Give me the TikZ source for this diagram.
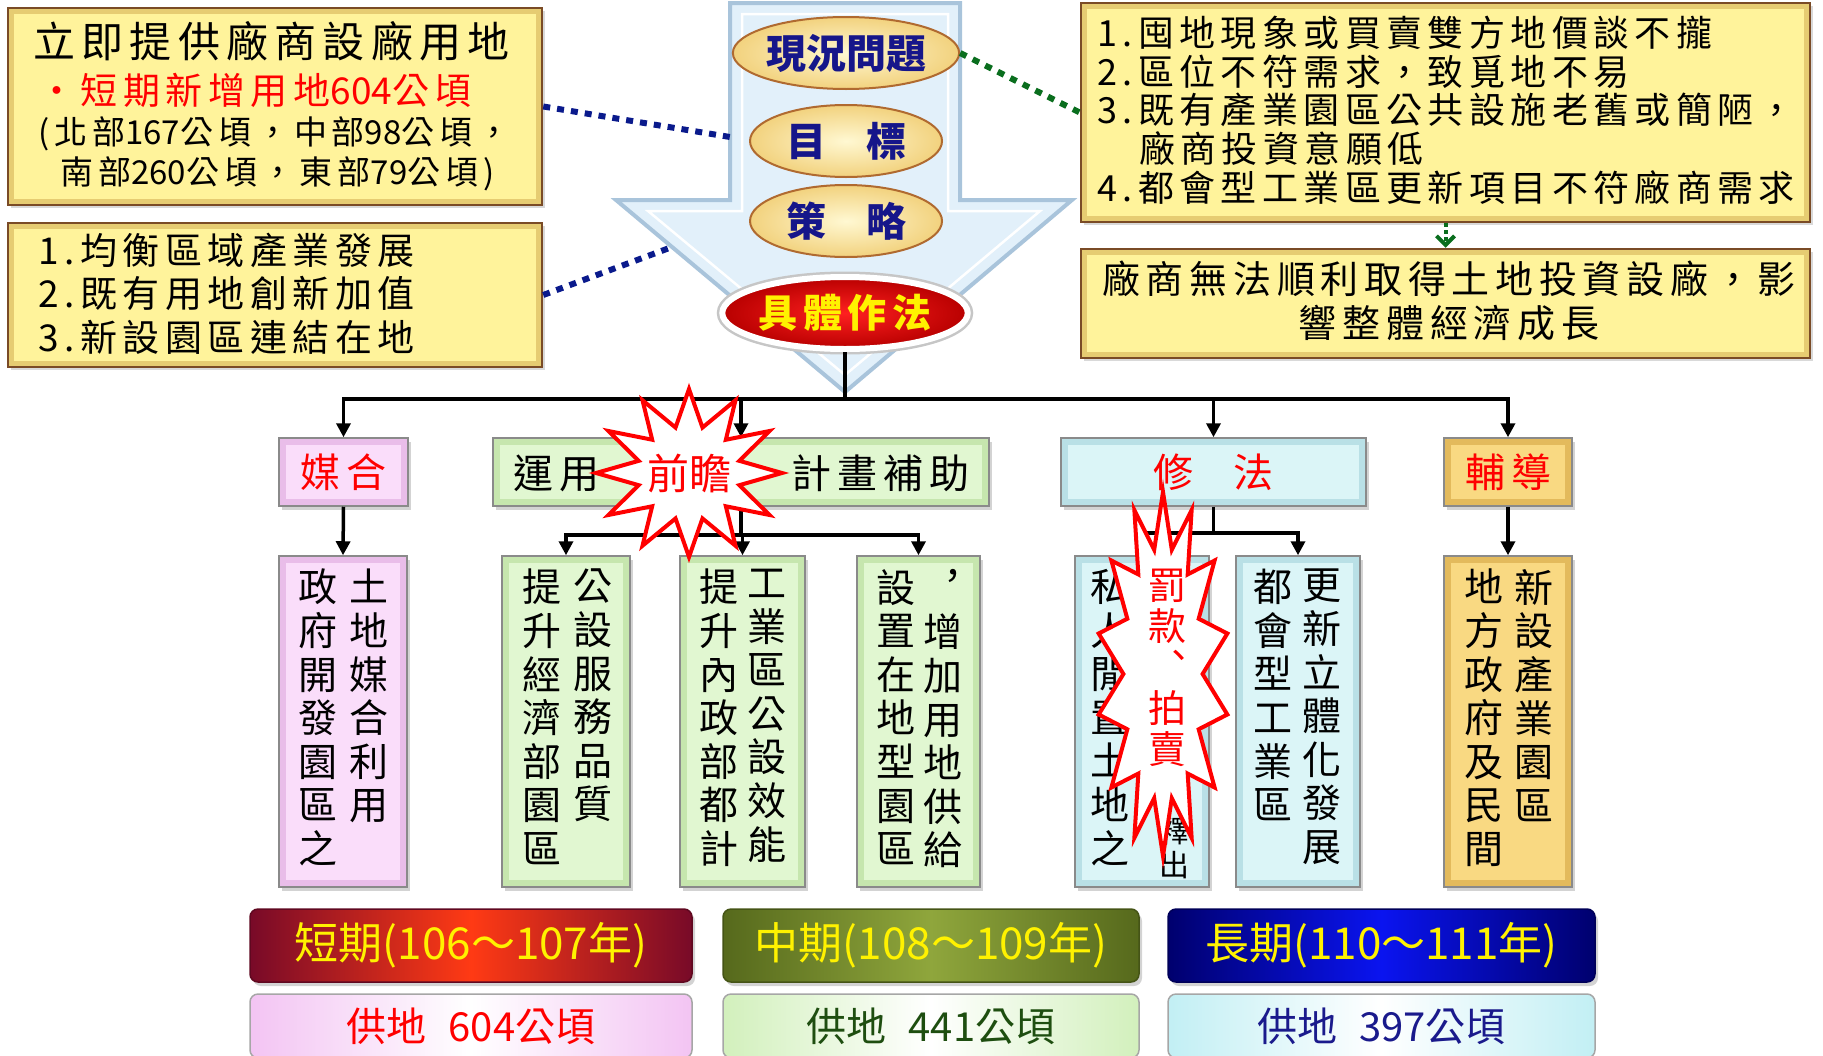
\documentclass[tikz,border=0pt]{standalone}
\usepackage{fontspec}
\setmainfont{Noto Sans CJK TC}
\newfontfamily\zh[LetterSpace=15]{Noto Sans CJK TC}
\newfontfamily\zhn{Noto Sans CJK TC}
\usetikzlibrary{arrows.meta,shadows,shapes.geometric}
\definecolor{yfill}{HTML}{FFF39B}
\definecolor{yedge}{HTML}{E6CC72}
\definecolor{ybrown}{HTML}{7A4B26}
\definecolor{navyt}{HTML}{16168A}
\definecolor{navyd}{HTML}{0A1A8C}
\definecolor{gdot}{HTML}{0A6E1E}
\definecolor{arrfill}{HTML}{E2F0FA}
\definecolor{arredge}{HTML}{A9C4DB}
\definecolor{pinkO}{HTML}{E9BDE9}
\definecolor{pinkI}{HTML}{FADDFA}
\definecolor{grnO}{HTML}{C6E6AE}
\definecolor{grnI}{HTML}{E1F7D1}
\definecolor{cyO}{HTML}{B9E0E6}
\definecolor{cyI}{HTML}{DBF5F7}
\definecolor{gdO}{HTML}{E3BA5C}
\definecolor{gdI}{HTML}{F9D982}
\definecolor{bx}{HTML}{8A8A8A}
\definecolor{yin}{HTML}{FFF8D2}
\definecolor{yout}{HTML}{F2D27E}
\definecolor{ebrn}{HTML}{B06A30}
\definecolor{rin}{HTML}{FF2020}
\definecolor{rout}{HTML}{B80000}
\definecolor{wine}{HTML}{780A28}
\definecolor{redo}{HTML}{FF3A14}
\definecolor{olivO}{HTML}{56691C}
\definecolor{olivI}{HTML}{8FA63C}
\definecolor{navO}{HTML}{00006E}
\definecolor{navI}{HTML}{0A14F0}
\definecolor{sgreen}{HTML}{1E4E10}
\definecolor{snavy}{HTML}{1A1A8C}
\definecolor{spink}{HTML}{F3C4F3}
\definecolor{sgrn}{HTML}{D2F0BC}
\definecolor{scy}{HTML}{C2EFF4}
\begin{document}
\begin{tikzpicture}[x=1pt,y=-1pt,
  bev/.style n args={2}{fill=#1, draw=bx, line width=1.5pt, inner sep=0pt,
     path picture={\fill[#2] ([shift={(7pt,7pt)}]path picture bounding box.south west) rectangle ([shift={(-7pt,-7pt)}]path picture bounding box.north east);},
     drop shadow={opacity=0.35,shadow xshift=3pt,shadow yshift=-4pt}},
  ybox/.style={fill=yedge, draw=ybrown, line width=2.5pt, inner sep=0pt,
     path picture={\fill[yfill] ([shift={(6pt,6pt)}]path picture bounding box.south west) rectangle ([shift={(-6pt,-6pt)}]path picture bounding box.north east);},
     drop shadow={opacity=0.3,shadow xshift=3pt,shadow yshift=-3pt}},
  txt/.style={inner sep=0pt},
  yell/.style={ellipse, minimum width=192pt, minimum height=72pt, inner sep=0pt, draw=ebrn, line width=2pt, inner color=yin, outer color=yout, text=navyt, font=\bfseries\fontsize{40}{42}\selectfont},
  redell/.style={ellipse, minimum width=244pt, minimum height=72pt, inner sep=0pt, preaction={draw=gray!45, line width=11pt}, draw=white, line width=6pt, inner color=rin, outer color=rout, text=yellow, font=\bfseries\zh\fontsize{39}{41}\selectfont},
  per/.style n args={2}{rounded corners=8pt, minimum height=73pt, inner sep=0pt, left color=#1, right color=#1, middle color=#2, draw=#1!80!black, line width=1.5pt, text=yellow, font=\fontsize{44}{46}\selectfont, drop shadow={opacity=0.35,shadow xshift=3pt,shadow yshift=-4pt}},
  sup/.style n args={2}{rounded corners=8pt, minimum height=64pt, inner sep=0pt, left color=#1, right color=#1, middle color=white, draw=gray!70, line width=1.5pt, text=#2, font=\fontsize{40}{42}\selectfont},
  vcol/.style={font=\fontsize{39}{43.6}\selectfont, align=center, anchor=north, inner sep=0pt},
  ln/.style={line width=3.5pt},
  arr/.style={line width=3.5pt, -{Triangle[length=14pt,width=14pt]}},
  bdot/.style={draw=navyd, line width=6pt, dash pattern=on 7pt off 7pt},
  gdotl/.style={draw=gdot, line width=6pt, dash pattern=on 7pt off 7pt},
  starst/.style={draw=red, line width=4pt, fill=white, line join=miter}
]
\useasboundingbox (0,0) rectangle (1823,1055);

% ---------- big arrow ----------
\draw[fill=arrfill, draw=arredge, line width=4pt, line join=miter]
  (730,3) -- (960,3) -- (960,200) -- (1072,200) -- (845,392) -- (616,200) -- (730,200) -- cycle;
\draw[white, line width=2.5pt, line join=miter]
  (742,14) -- (948,14) -- (948,211) -- (1040,211) -- (845,375) -- (648,211) -- (742,211) -- cycle;
\coordinate (aL) at (730,137);
\coordinate (aH) at (672,247);

% ---------- yellow boxes ----------
\node[ybox, minimum width=534pt, minimum height=197pt] (tl1) at (275,106.5) {};
\node[ybox, minimum width=534pt, minimum height=144pt] (tl2) at (275,295) {};
\node[ybox, minimum width=729pt, minimum height=219pt] (rb1) at (1445.5,112.5) {};
\node[ybox, minimum width=729pt, minimum height=109pt] (rb2) at (1445.5,303.5) {};

\node[txt, anchor=west, font=\zh\fontsize{42}{44}\selectfont] (t11) at (33,41) {立即提供廠商設廠用地};
\node[txt, anchor=west, text=red, font=\zh\fontsize{37}{40}\selectfont] (t12) at (38,90) {•短期新增用地{\zhn 604}公頃};
\node[txt, anchor=west, font=\zh\fontsize{33}{36}\selectfont] (t13) at (38,134) {(北部{\zhn 167}公頃，中部{\zhn 98}公頃，};
\node[txt, anchor=west, font=\zh\fontsize{33}{36}\selectfont] (t14) at (60,174) {南部{\zhn 260}公頃，東部{\zhn 79}公頃)};

\node[txt, anchor=west, font=\zh\fontsize{37}{40}\selectfont] (t21) at (38,250) {1.均衡區域產業發展};
\node[txt, anchor=west, font=\zh\fontsize{37}{40}\selectfont] (t22) at (38,293) {2.既有用地創新加值};
\node[txt, anchor=west, font=\zh\fontsize{37}{40}\selectfont] (t23) at (38,337) {3.新設園區連結在地};

\node[txt, anchor=west, font=\zh\fontsize{36}{38}\selectfont] (r11) at (1097,33) {1.囤地現象或買賣雙方地價談不攏};
\node[txt, anchor=west, font=\zh\fontsize{36}{38}\selectfont] (r12) at (1097,72) {2.區位不符需求，致覓地不易};
\node[txt, anchor=west, font=\zh\fontsize{36}{38}\selectfont] (r13) at (1097,110) {3.既有產業園區公共設施老舊或簡陋，};
\node[txt, anchor=west, font=\zh\fontsize{36}{38}\selectfont] (r14) at (1139,149) {廠商投資意願低};
\node[txt, anchor=west, font=\zh\fontsize{36}{38}\selectfont] (r15) at (1097,188) {4.都會型工業區更新項目不符廠商需求};

\node[txt, font=\zh\fontsize{38}{40}\selectfont] (r21) at (1449,279) {廠商無法順利取得土地投資設廠，影};
\node[txt, font=\zh\fontsize{38}{40}\selectfont] (r22) at (1449,323) {響整體經濟成長};

% ---------- ellipses ----------
\node[yell] (e1) at (846,53) {現況問題};
\node[yell] (e2) at (846,141) {目　標};
\node[yell] (e3) at (846,221) {策　略};
\node[redell] (e4) at (845,313) {具體作法};

% ---------- dotted links ----------
\draw[bdot] (tl1.east) -- (aL);
\draw[bdot] (tl2.east) -- (aH);
\draw[gdotl] (e1.east) -- (rb1.west);
\draw[draw=gdot, line width=4pt, dash pattern=on 4pt off 3pt, -{Straight Barb[length=9pt,width=18pt,line width=4pt]}] (rb1.south) -- (rb2.north);

% ---------- level 2 ----------
\node[bev={pinkO}{pinkI}, minimum width=129pt, minimum height=68pt, text=red, font=\zh\fontsize{40}{42}\selectfont] (b1) at (343.5,472) {媒合};
\node[bev={grnO}{grnI}, minimum width=496pt, minimum height=68pt] (b2) at (741,472) {};
\node[bev={cyO}{cyI}, minimum width=305pt, minimum height=68pt, text=red, font=\fontsize{40}{42}\selectfont] (b3) at (1213.5,472) {修\hspace{40pt}法};
\node[bev={gdO}{gdI}, minimum width=128pt, minimum height=68pt, text=red, font=\zh\fontsize{40}{42}\selectfont] (b4) at (1508,472) {輔導};
\node[txt, font=\zh\fontsize{40}{42}\selectfont] (t2a) at (556,473) {運用};
\node[txt, font=\zh\fontsize{40}{42}\selectfont] (t2b) at (880,473) {計畫補助};

% ---------- level 3 ----------
\node[bev={pinkO}{pinkI}, minimum width=128pt, minimum height=331pt] (c1) at (343,721.5) {};
\node[bev={grnO}{grnI}, minimum width=128pt, minimum height=331pt] (c2) at (566,721.5) {};
\node[bev={grnO}{grnI}, minimum width=125pt, minimum height=331pt] (c3) at (742.5,721.5) {};
\node[bev={grnO}{grnI}, minimum width=123pt, minimum height=331pt] (c4) at (918.5,721.5) {};
\node[bev={cyO}{cyI}, minimum width=134pt, minimum height=331pt] (c5) at (1142,721.5) {};
\node[bev={cyO}{cyI}, minimum width=124pt, minimum height=331pt] (c6) at (1298,721.5) {};
\node[bev={gdO}{gdI}, minimum width=128pt, minimum height=331pt] (c7) at (1508,721.5) {};

\node[vcol] (c1r) at (369,569) {土\\地\\媒\\合\\利\\用};
\node[vcol] (c1l) at (318,569) {政\\府\\開\\發\\園\\區\\之};
\node[vcol] (c2r) at (593,569) {公\\設\\服\\務\\品\\質};
\node[vcol] (c2l) at (542,569) {提\\升\\經\\濟\\部\\園\\區};
\node[vcol] (c3r) at (767,569) {工\\業\\區\\公\\設\\效\\能};
\node[vcol] (c3l) at (719,569) {提\\升\\內\\政\\部\\都\\計};
\node[vcol] (c4r) at (943,569) {︐\\增\\加\\用\\地\\供\\給};
\node[vcol] (c4l) at (896,569) {設\\置\\在\\地\\型\\園\\區};
\node[vcol] (c5l) at (1110,569) {私\\人\\閒\\置\\土\\地\\之};
\node[vcol, font=\fontsize{30}{34}\selectfont] (c5r) at (1174,817) {釋\\出};
\node[vcol] (c6r) at (1322,569) {更\\新\\立\\體\\化\\發\\展};
\node[vcol] (c6l) at (1273,569) {都\\會\\型\\工\\業\\區};
\node[vcol] (c7r) at (1534,569) {新\\設\\產\\業\\園\\區};
\node[vcol] (c7l) at (1484,569) {地\\方\\政\\府\\及\\民\\間};

% ---------- periods ----------
\node[per={wine}{redo}, minimum width=442pt] (p1) at (471,945.5) {短期(106～107年)};
\node[per={olivO}{olivI}, minimum width=416pt] (p2) at (931,945.5) {中期(108～109年)};
\node[per={navO}{navI}, minimum width=427pt] (p3) at (1381.5,945.5) {長期(110～111年)};
\node[sup={spink}{red}, minimum width=442pt] (q1) at (471,1026) {供地\hspace{22pt}604公頃};
\node[sup={sgrn}{sgreen}, minimum width=416pt] (q2) at (931,1026) {供地\hspace{22pt}441公頃};
\node[sup={scy}{snavy}, minimum width=427pt] (q3) at (1381.5,1026) {供地\hspace{22pt}397公頃};

% ---------- connectors ----------
\coordinate (jn) at (845,399);
\coordinate (j2) at (741,535);
\coordinate (j3) at (1213.5,533);
\draw[ln] (e4.south) -- (jn);
\draw[arr] (jn) -| (b1.north);
\draw[arr] (jn) -| (b2.north);
\draw[arr] (jn) -| (b3.north);
\draw[arr] (jn) -| (b4.north);
\draw[arr] (b1.south) -- (c1.north);
\draw[arr] (b4.south) -- (c7.north);
\draw[ln] (b2.south) -- (j2);
\draw[arr] (j2) -| (c2.north);
\draw[arr] (j2) -| (c3.north);
\draw[arr] (j2) -| (c4.north);
\draw[ln] (b3.south) -- (j3);
\draw[arr] (j3) -| (c5.north);
\draw[arr] (j3) -| (c6.north);

% ---------- stars ----------
\draw[starst] plot[samples at={0,...,23}, variable=\k]
  ({689+93*((mod(\k,2)==0)?1:0.56)*cos(\k*15-90)}, {473+84*((mod(\k,2)==0)?1:0.56)*sin(\k*15-90)}) -- cycle;
\node[txt, text=red, font=\fontsize{42}{44}\selectfont] (qz) at (689,473) {前瞻};

\draw[starst] plot[samples at={0,...,27}, variable=\k]
  ({1163+66*((mod(\k,2)==0)?1:0.6)*cos(\k*360/28-90)}, {674+182*((mod(\k,2)==0)?1:0.7)*sin(\k*360/28-90)}) -- cycle;
\node[vcol, text=red, font=\fontsize{38}{41}\selectfont] (fk) at (1167,569) {罰\\款\\︑\\拍\\賣};
\end{tikzpicture}
\end{document}
